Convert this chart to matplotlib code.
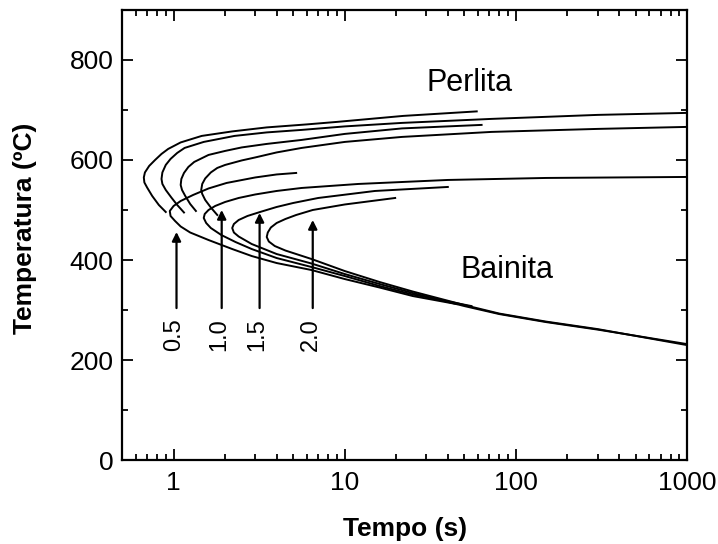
import matplotlib
matplotlib.use("Agg")
import matplotlib.pyplot as plt
from matplotlib.ticker import LogLocator, NullFormatter, MultipleLocator

plt.rcParams['font.family'] = ['Liberation Sans', 'DejaVu Sans']

# pearlite C-curves (lower branch end -> nose -> upper branch end)
p05_t = [0.90, 0.82, 0.75, 0.70, 0.675, 0.67, 0.68, 0.72, 0.78, 0.85, 0.93, 1.1,
         1.46, 2.2, 3.5, 6, 9, 22, 59]
p05_T = [496, 510, 528, 545, 555, 565, 575, 588, 600, 612, 622, 635,
         648, 657, 665, 671, 676, 688, 697]
p10_t = [1.15, 1.05, 0.97, 0.90, 0.86, 0.85, 0.86, 0.90, 0.96, 1.05, 1.16, 1.5,
         2.27, 3.5, 5.6, 10, 21.6, 72, 300, 1000]
p10_T = [495, 510, 525, 540, 552, 562, 575, 590, 602, 614, 624, 636,
         648, 655, 660, 667, 674, 682, 690, 694]
p15_t = [1.35, 1.25, 1.17, 1.12, 1.10, 1.11, 1.15, 1.22, 1.32, 1.6, 2.0, 2.5,
         3.5, 5.6, 10, 21.6, 63]
p15_T = [498, 512, 528, 540, 550, 562, 574, 586, 596, 610, 618, 625,
         632, 640, 652, 663, 670]
p20_t = [1.8, 1.65, 1.53, 1.47, 1.45, 1.47, 1.53, 1.65, 1.8, 2.0, 2.5, 3.0,
         4.0, 5.6, 10, 21.6, 72, 300, 1000]
p20_T = [490, 505, 520, 532, 540, 552, 563, 575, 584, 590, 599, 605,
         615, 624, 636, 646, 656, 662, 666]

# bainite C-curves (upper branch end -> nose -> lower branch end)
b05_t = [5.2, 4.0, 3.0, 2.04, 1.6, 1.3, 1.1, 1.0, 0.95, 0.96, 1.02, 1.1, 1.25,
         1.6, 2.2, 2.86, 4.0, 6.4, 10, 16, 25, 45]
b05_T = [574, 571, 565, 554, 543, 530, 518, 508, 498, 488, 478, 467, 455,
         440, 422, 408, 394, 380, 362, 345, 328, 312]
b10_t = [1000, 150, 40, 12, 5.6, 4.0, 3.0, 2.4, 2.0, 1.75, 1.6, 1.52, 1.5,
         1.55, 1.65, 1.9, 2.3, 2.86, 4.0, 6.4, 10, 16, 25, 55]
b10_T = [566, 564, 560, 552, 544, 538, 531, 524, 516, 508, 500, 492, 484,
         474, 464, 450, 436, 422, 404, 386, 368, 348, 331, 308]
b15_t = [40, 15, 7, 5, 4, 3.2, 2.7, 2.4, 2.25, 2.2, 2.25, 2.4, 2.86, 4.0,
         6.4, 10, 16, 25, 50, 80, 150, 300, 1000]
b15_T = [546, 538, 524, 514, 506, 496, 488, 480, 472, 464, 455, 447, 432, 412,
         393, 372, 352, 334, 308, 292, 276, 261, 232]
b20_t = [19.7, 10, 6.5, 5.2, 4.5, 4.0, 3.7, 3.55, 3.5, 3.6, 3.9, 4.5, 6.4,
         10, 16, 25, 50, 80, 150, 300, 1000]
b20_T = [524, 511, 500, 490, 482, 474, 465, 455, 446, 437, 428, 419, 402,
         378, 356, 337, 310, 293, 277, 262, 230]

# arrows and labels
arrow_t = [1.04, 1.91, 3.18, 6.5]
arrow_tip = [456, 500, 494, 480]
arrow_tail = 304
arrow_labels = ['0.5', '1.0', '1.5', '2.0']

fig = plt.figure(figsize=(7.18, 5.44), dpi=100)
ax = fig.add_axes([0.170, 0.154, 0.787, 0.828])

for t, T in [(p05_t, p05_T), (p10_t, p10_T), (p15_t, p15_T), (p20_t, p20_T),
             (b05_t, b05_T), (b10_t, b10_T), (b15_t, b15_T), (b20_t, b20_T)]:
    ax.plot(t, T, color='black', lw=1.4)

for t, tip, lab in zip(arrow_t, arrow_tip, arrow_labels):
    ax.annotate('', xy=(t, tip), xytext=(t, arrow_tail),
                arrowprops=dict(arrowstyle='-|>', color='black', lw=1.6,
                                mutation_scale=13, shrinkA=0, shrinkB=0))
    ax.text(t * 0.97, 250, lab, rotation=90, ha='center', va='center', fontsize=17)

ax.text(53.8, 754, 'Perlita', ha='center', va='center', fontsize=22)
ax.text(88.6, 380, 'Bainita', ha='center', va='center', fontsize=22)

ax.set_xscale('log')
ax.set_xlim(0.5, 1000)
ax.set_ylim(0, 900)
ax.set_xticks([1, 10, 100, 1000])
ax.set_xticklabels(['1', '10', '100', '1000'])
ax.xaxis.set_minor_locator(LogLocator(base=10, subs=range(2, 10)))
ax.xaxis.set_minor_formatter(NullFormatter())
ax.set_yticks([0, 200, 400, 600, 800])
ax.yaxis.set_minor_locator(MultipleLocator(100))

ax.tick_params(which='both', direction='in', top=True, right=True, labelsize=19, width=1.3)
ax.tick_params(which='major', length=8)
ax.tick_params(which='minor', length=4)
ax.tick_params(axis='y', pad=6)
ax.tick_params(axis='x', pad=8)
for s in ax.spines.values():
    s.set_linewidth(1.6)

ax.set_xlabel('Tempo (s)', fontsize=19, fontweight='bold')
ax.set_ylabel('Temperatura (ºC)', fontsize=19, fontweight='bold')
ax.xaxis.set_label_coords(0.50, -0.125)
ax.yaxis.set_label_coords(-0.150, 0.515)

fig.savefig('out.png', dpi=100)
